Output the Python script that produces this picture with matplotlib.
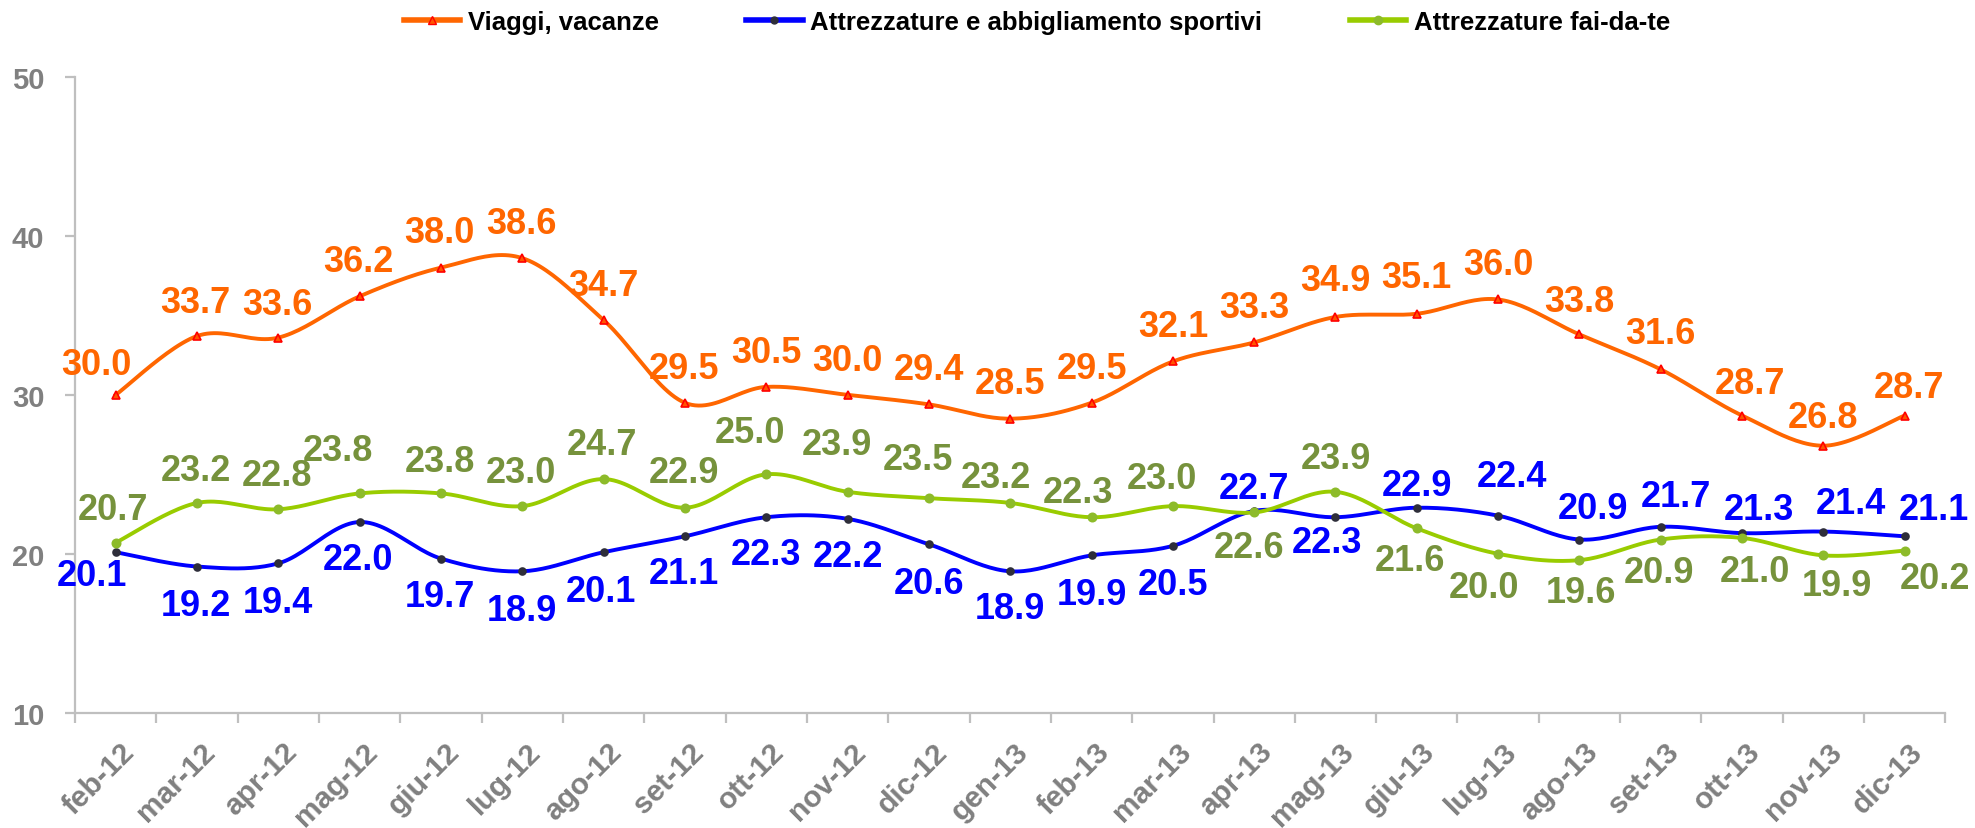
import numpy as np
import matplotlib
matplotlib.use('Agg')
import matplotlib.pyplot as plt
from matplotlib.transforms import ScaledTranslation

plt.rcParams['font.family'] = ['Liberation Sans', 'DejaVu Sans']
plt.rcParams['font.weight'] = 'bold'

mesi = ['feb-12', 'mar-12', 'apr-12', 'mag-12', 'giu-12', 'lug-12', 'ago-12', 'set-12',
        'ott-12', 'nov-12', 'dic-12', 'gen-13', 'feb-13', 'mar-13', 'apr-13', 'mag-13',
        'giu-13', 'lug-13', 'ago-13', 'set-13', 'ott-13', 'nov-13', 'dic-13']

viaggi = [30.0, 33.7, 33.6, 36.2, 38.0, 38.6, 34.7, 29.5, 30.5, 30.0, 29.4, 28.5,
          29.5, 32.1, 33.3, 34.9, 35.1, 36.0, 33.8, 31.6, 28.7, 26.8, 28.7]
sportivi = [20.1, 19.2, 19.4, 22.0, 19.7, 18.9, 20.1, 21.1, 22.3, 22.2, 20.6, 18.9,
            19.9, 20.5, 22.7, 22.3, 22.9, 22.4, 20.9, 21.7, 21.3, 21.4, 21.1]
faidate = [20.7, 23.2, 22.8, 23.8, 23.8, 23.0, 24.7, 22.9, 25.0, 23.9, 23.5, 23.2,
           22.3, 23.0, 22.6, 23.9, 21.6, 20.0, 19.6, 20.9, 21.0, 19.9, 20.2]

# spostamento delle etichette rispetto al punto (in punti tipografici)
off_viaggi = [(-14, 22), (-1, 24), (-1, 24), (-1, 25), (-1, 25), (-1, 25), (0, 25), (-1, 25),
              (0, 25), (0, 25), (0, 25), (0, 25), (0, 25), (0, 25), (0, 25), (0, 26),
              (0, 26), (0, 25), (0, 24), (0, 26), (6, 23), (0, 20), (3, 20)]
off_sportivi = [(-17, -17), (-1, -28), (0, -28), (-1, -27), (-1, -27), (0, -28), (-2, -28),
                (-1, -27), (0, -27), (0, -27), (0, -28), (0, -27), (0, -28), (0, -28),
                (0, 16), (-6, -18), (0, 16), (10, 28), (10, 22), (11, 22), (12, 17),
                (20, 20), (21, 19)]
off_faidate = [(-2, 24), (-1, 23), (-1, 24), (-16, 31), (-1, 23), (-1, 24), (-1, 25),
               (-1, 25), (-12, 30), (-8, 34), (-8, 28), (-10, 18), (-10, 18), (-8, 20),
               (-4, -25), (0, 24), (-5, -23), (-10, -24), (1, -23), (-1, -24), (9, -24),
               (10, -22), (22, -20)]


def smooth(x, y, n=24):
    # linea smussata come in Excel (Catmull-Rom)
    pts = np.column_stack([x, y]).astype(float)
    p = np.vstack([pts[0], pts, pts[-1]])
    t = np.linspace(0, 1, n, endpoint=False)[:, None]
    out = []
    for i in range(1, len(p) - 2):
        p0, p1, p2, p3 = p[i - 1], p[i], p[i + 1], p[i + 2]
        seg = 0.5 * (2 * p1 + (-p0 + p2) * t + (2 * p0 - 5 * p1 + 4 * p2 - p3) * t ** 2
                     + (-p0 + 3 * p1 - 3 * p2 + p3) * t ** 3)
        out.append(seg)
    out.append(pts[-1:])
    s = np.vstack(out)
    return s[:, 0], s[:, 1]


fig = plt.figure(figsize=(19.75, 8.29), dpi=100)
ax = fig.add_axes([0.038, 0.139, 0.947, 0.767])
x = np.arange(len(mesi))

serie = [
    ('Viaggi, vacanze', viaggi, '#FF6600', '#FF6600', '^', '#FF5500', '#FF0000', 6, off_viaggi),
    ('Attrezzature e abbigliamento sportivi', sportivi, '#0000FF', '#0000FF', 'o', '#2E2E3A', '#2E2E3A', 5, off_sportivi),
    ('Attrezzature fai-da-te', faidate, '#99CC00', '#76923C', 'o', '#8DBB2A', '#8DBB2A', 6, off_faidate),
]

handles = []
for nome, vals, col, col_lab, mk, mfc, mec, ms, offs in serie:
    xs, ys = smooth(x, vals)
    ax.plot(xs, ys, color=col, lw=2.8, zorder=2)
    ax.plot(x, vals, ls='none', marker=mk, ms=ms, mfc=mfc, mec=mec, mew=1.2, zorder=3)
    h, = ax.plot([], [], color=col, lw=4, marker=mk, ms=ms, mfc=mfc, mec=mec, label=nome)
    handles.append(h)
    for xi, v, (dx, dy) in zip(x, vals, offs):
        ax.annotate(f'{v:.1f}', (xi, v), xytext=(dx, dy), textcoords='offset points',
                    ha='center', va='center', fontsize=26, fontweight='bold', color=col_lab)

ax.set_xlim(-0.5, len(mesi) - 0.5)
ax.set_ylim(10, 50)
ax.set_yticks([10, 20, 30, 40, 50])
ax.set_xticks(x)
ax.set_xticks(np.arange(-0.5, len(mesi)), minor=True)
ax.set_xticklabels(mesi, rotation=45, ha='right', va='center', rotation_mode='anchor')

for s in ['top', 'right']:
    ax.spines[s].set_visible(False)
for s in ['left', 'bottom']:
    ax.spines[s].set_color('#BFBFBF')
    ax.spines[s].set_linewidth(1.6)

ax.tick_params(axis='y', colors='#BFBFBF', width=1.6, length=7, labelsize=21,
               labelcolor='#808080', pad=15)
ax.tick_params(axis='x', which='major', length=0, labelsize=21.5, labelcolor='#808080', pad=24.5)
ax.tick_params(axis='x', which='minor', length=7, width=1.6, color='#BFBFBF')

for lab in ax.get_xticklabels():
    lab.set_transform(lab.get_transform() + ScaledTranslation(0.14, 0, fig.dpi_scale_trans))

fig.legend(handles=handles, loc='center', bbox_to_anchor=(0.525, 0.972), ncol=3, frameon=False,
           fontsize=18.5, handlelength=2.2, handletextpad=0.3, columnspacing=3.4)

plt.savefig('out.png', dpi=100)
